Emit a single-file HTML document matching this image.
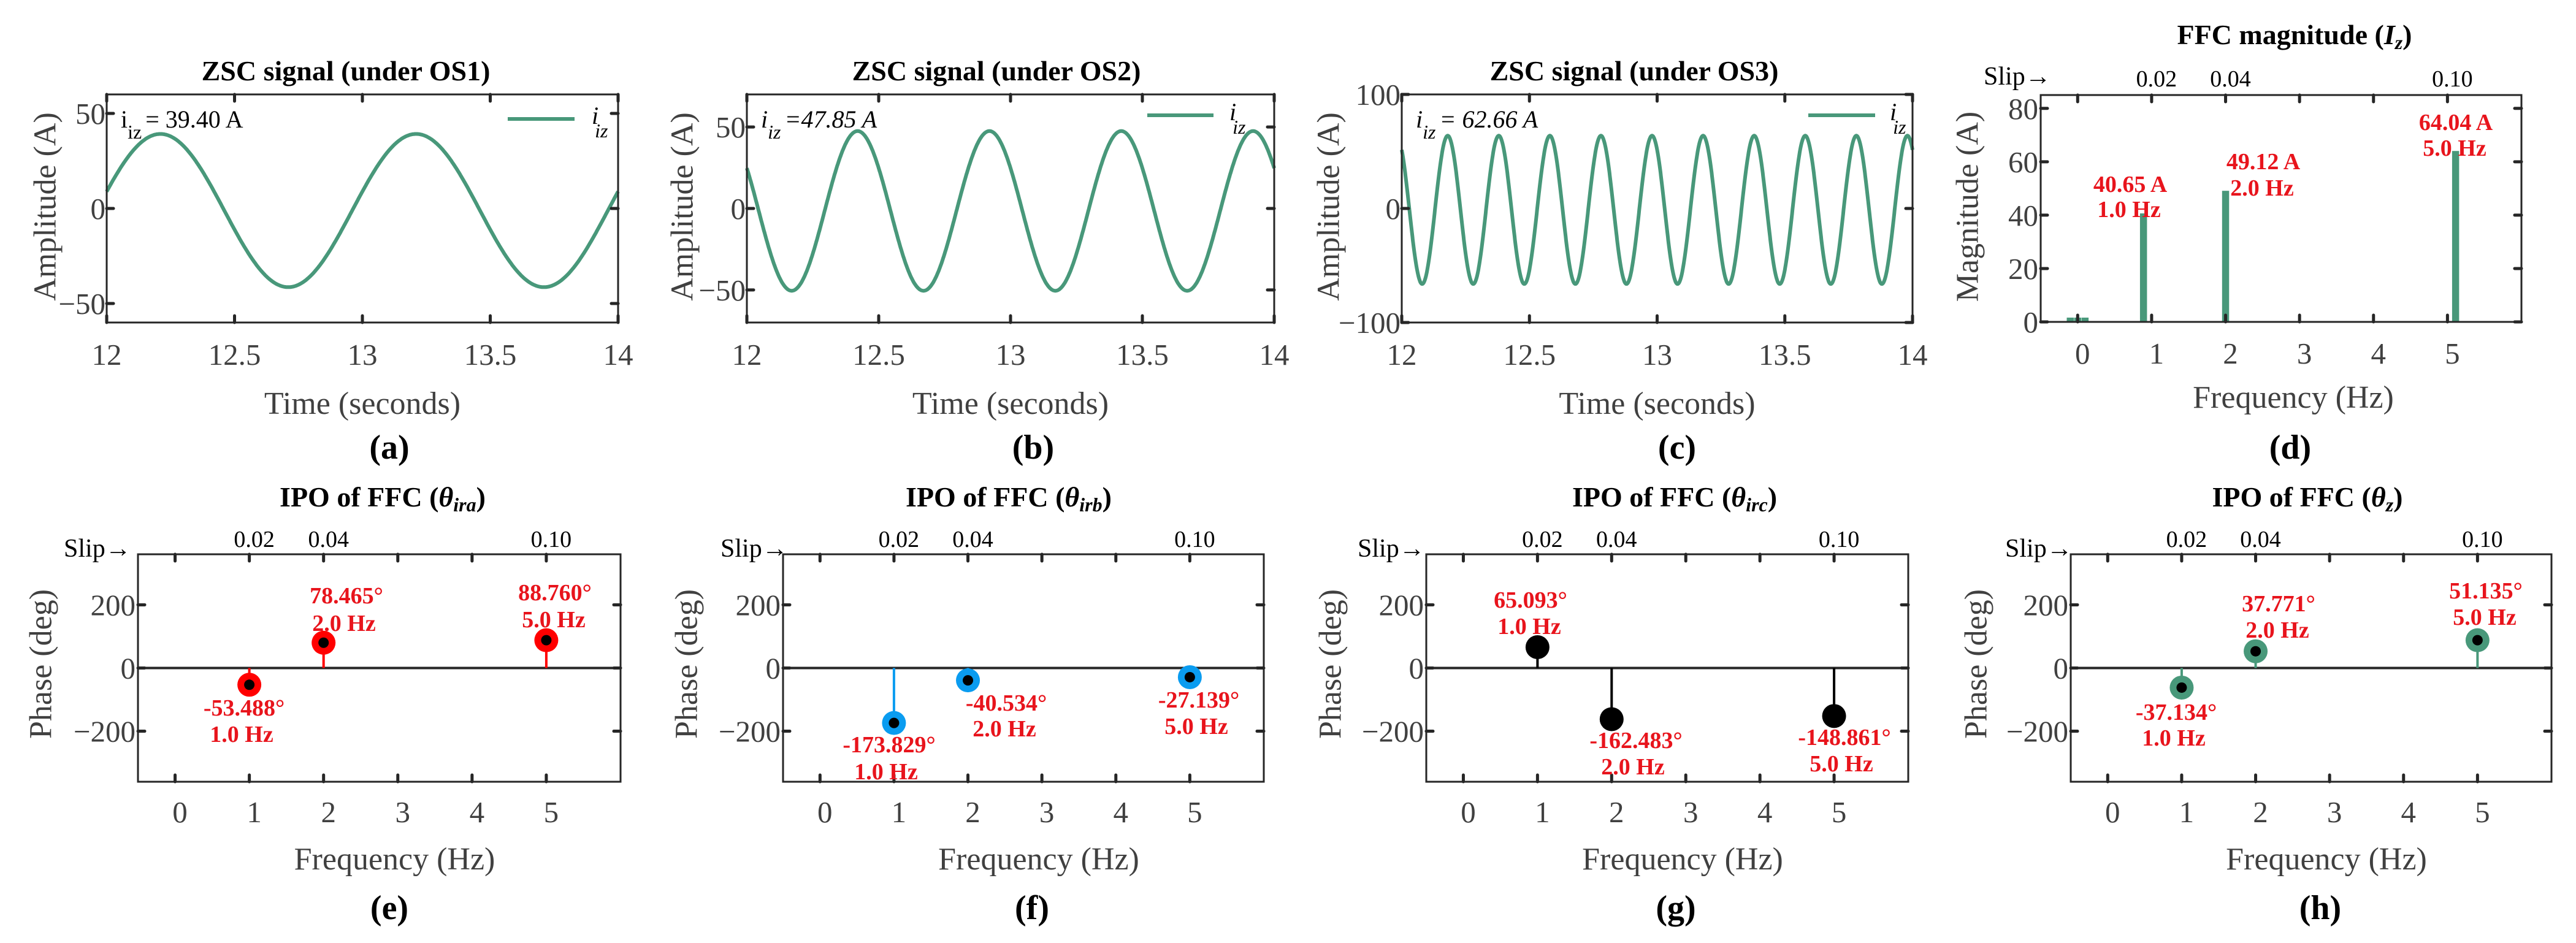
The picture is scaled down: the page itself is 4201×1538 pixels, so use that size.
<!DOCTYPE html>
<html><head><meta charset="utf-8">
<style>
html,body{margin:0;padding:0;background:#fff;}
svg{display:block;font-family:"Liberation Serif",serif;}
.tick{font-size:49px;fill:#404040;}
.axl{font-size:52px;fill:#404040;}
.ttl{font-size:46px;font-weight:bold;fill:#000;}
.sub{font-size:56px;font-weight:bold;fill:#000;}
.red{font-size:38px;font-weight:bold;fill:#e8141c;}
.slip{font-size:38px;fill:#000;}
</style></head>
<body>
<svg id="fig" width="4201" height="1538" viewBox="0 0 4201 1538" xmlns="http://www.w3.org/2000/svg"></svg>
<script>
// ---------- data ----------
const timeTicks = [12, 12.5, 13, 13.5, 14];
const timeTickLabels = ["12", "12.5", "13", "13.5", "14"];
const sigAmp = [40.3, 49, 65];          // signal amplitudes (A)
const sigFreq = [1, 2, 5];               // Hz
const sigPhase = [0.251, 2.576, 2.199];  // rad
const sigOffset = [-1.1, -1.5, -1.2];
const sigLabels = ["= 39.40 A", "=47.85 A", "= 62.66 A"];
const sigYTicks = [[-50, 0, 50], [-50, 0, 50], [-100, 0, 100]];
const sigYLim = [[-60, 60], [-70, 70], [-100, 100]];

const freqTicks = [0, 1, 2, 3, 4, 5];
const slipTickFreq = [1, 2, 5];
const slipLabels = ["0.02", "0.04", "0.10"];

const magFreq = [-0.1, 0, 0.1, 0.89, 2.0, 5.11];
const magVal = [1.6, 1.6, 1.6, 40.65, 49.12, 64.04];
const magYTicks = [0, 20, 40, 60, 80];

const phaseFreq = [1, 2, 5];
const phaseE = [-53, 80, 88];
const phaseF = [-174, -39, -29];
const phaseG = [66, -162, -152];
const phaseH = [-62, 53, 88];
const phaseYTicks = [-200, 0, 200];

// ---------- helpers ----------
const NS = "http://www.w3.org/2000/svg";
const svg = document.getElementById("fig");
function el(tag, attrs, parent) {
  const e = document.createElementNS(NS, tag);
  for (const k in attrs) e.setAttribute(k, attrs[k]);
  (parent || svg).appendChild(e);
  return e;
}
function txt(s, x, y, cls, anchor, parent) {
  const t = el("text", {x: x, y: y, class: cls, "text-anchor": anchor || "middle"}, parent);
  t.textContent = s;
  return t;
}
function makeAxes(g, L, R, T, B, xlim, ylim) {
  const sx = v => L + (v - xlim[0]) / (xlim[1] - xlim[0]) * (R - L);
  const sy = v => B - (v - ylim[0]) / (ylim[1] - ylim[0]) * (B - T);
  return {sx, sy, L, R, T, B};
}
function drawFrame(g, ax, xt, yt) {
  const {sx, sy, L, R, T, B} = ax;
  const f = el("rect", {x: L, y: T, width: R - L, height: B - T, fill: "none", stroke: "#262626", "stroke-width": 3}, g);
  
  
  xt.forEach(v => {
    el("line", {x1: sx(v), x2: sx(v), y1: B, y2: B - 11, stroke: "#262626", "stroke-width": 5, "stroke-linecap": "round"}, g);
    el("line", {x1: sx(v), x2: sx(v), y1: T, y2: T + 11, stroke: "#262626", "stroke-width": 5, "stroke-linecap": "round"}, g);
  });
  yt.forEach(v => {
    el("line", {x1: L, x2: L + 11, y1: sy(v), y2: sy(v), stroke: "#262626", "stroke-width": 5, "stroke-linecap": "round"}, g);
    el("line", {x1: R, x2: R - 11, y1: sy(v), y2: sy(v), stroke: "#262626", "stroke-width": 5, "stroke-linecap": "round"}, g);
  });
}
function ylabel(s, x, y, g) {
  const t = txt(s, 0, 0, "axl", "middle", g);
  t.setAttribute("transform", "translate(" + x + "," + y + ") rotate(-90)");
  t.setAttribute("dominant-baseline", "central");
  
  
  return t;
}
function title(parts, x, y, g) {
  const t = el("text", {x: x, y: y, class: "ttl", "text-anchor": "middle"}, g);
  parts.forEach(p => {
    const s = el("tspan", {}, t);
    if (p.it) s.setAttribute("font-style", "italic");
    if (p.sub) { s.setAttribute("font-size", "32px"); s.setAttribute("dy", "8"); }
    if (p.up) s.setAttribute("dy", "-8");
    s.textContent = p.t;
  });
  
  
  return t;
}
const GREEN = "#48987a";

// ---------- row 1: time signals ----------
const sigBoxes = [[174, 1008], [1218, 2078], [2286, 3119]];
const sigTitleX = [564, 1625, 2665];
const sigYLabX = [74, 1113, 2167];
const sigSubX = [635, 1685, 2735];
const sigAnnX = [197, 1241, 2309];
const legX = [[828, 937, 965], [1871, 1979, 2005], [2949, 3058, 3082]];
const sigNames = ["(a)", "(b)", "(c)"];
["OS1", "OS2", "OS3"].forEach((os, i) => {
  const g = el("g", {});
  
  
  const ax = makeAxes(g, sigBoxes[i][0], sigBoxes[i][1], 154, 526, [12, 14], sigYLim[i]);
  let d = "";
  const N = 1200;
  for (let k = 0; k <= N; k++) {
    const t = 12 + 2 * k / N;
    const v = sigOffset[i] + sigAmp[i] * Math.sin(2 * Math.PI * sigFreq[i] * (t - 12) + sigPhase[i]);
    d += (k ? "L" : "M") + ax.sx(t).toFixed(1) + " " + ax.sy(v).toFixed(1);
  }
  const p = el("path", {d: d, fill: "none", stroke: GREEN, "stroke-width": 6}, g);
  
  
  drawFrame(g, ax, timeTicks, sigYTicks[i]);
  timeTicks.forEach((v, j) => {
    const t = txt(timeTickLabels[j], ax.sx(v), 595, "tick", "middle", g);
    
    
  });
  sigYTicks[i].forEach(v => {
    const t = txt(String(v).replace("-", "\u2212"), ax.L - 2, ax.sy(v) + 17, "tick", "end", g);
    
    
  });
  title([{t: "ZSC signal (under " + os + ")"}], sigTitleX[i], 131, g);
  ylabel("Amplitude (A)", sigYLabX[i], 337, g);
  const xl = txt("Time (seconds)", (ax.L + ax.R) / 2, 675, "axl", "middle", g);
  
  
  const sl = txt(sigNames[i], sigSubX[i], 748, "sub", "middle", g);
  
  
  const an = el("text", {x: sigAnnX[i], y: 208, "font-size": "40px", fill: "#000"}, g);
  if (i > 0) an.setAttribute("font-style", "italic");
  const a1 = el("tspan", {}, an); a1.textContent = "i";
  const a2 = el("tspan", {dy: 18, "font-size": "32px"}, an); a2.textContent = "iz";
  const a3 = el("tspan", {dy: -18, dx: 6}, an); a3.textContent = sigLabels[i];
  
  
  const lg = el("g", {}, g);
  
  
  const ly = i === 0 ? 194 : 188;
  el("line", {x1: legX[i][0], x2: legX[i][1], y1: ly, y2: ly, stroke: GREEN, "stroke-width": 6}, lg);
  const lt = el("text", {x: legX[i][2], y: ly + 8, "font-size": "40px", "font-style": "italic", fill: "#000"}, lg);
  const l1 = el("tspan", {}, lt); l1.textContent = "i";
  const l2 = el("tspan", {dy: 22, dx: -6, "font-size": "32px"}, lt); l2.textContent = "iz";
});

// ---------- panel d: magnitude ----------
(function () {
  const g = el("g", {});
  
  
  const ax = makeAxes(g, 3328, 4112, 155, 525, [-0.5, 6], [0, 85]);
  const bw = 0.095 * (ax.R - ax.L) / 6.5;
  magFreq.forEach((f, j) => {
    const r = el("rect", {x: ax.sx(f) - bw / 2, y: ax.sy(magVal[j]), width: bw, height: ax.sy(0) - ax.sy(magVal[j]), fill: GREEN}, g);
    
    
  });
  drawFrame(g, ax, freqTicks, magYTicks);
  freqTicks.forEach(v => {
    const t = txt(String(v), ax.sx(v) + 8, 593, "tick", "middle", g);
    
    
  });
  magYTicks.forEach(v => {
    const t = txt(String(v), ax.L - 4, ax.sy(v) + 17, "tick", "end", g);
    
    
  });
  slipTickFreq.forEach((f, j) => {
    const t = txt(slipLabels[j], ax.sx(f) + 8, 141, "slip", "middle", g);
    
    
  });
  const s = el("text", {x: 3235, y: 138, "font-size": "42px", fill: "#000"}, g);
  s.textContent = "Slip\u2192";
  
  
  title([{t: "FFC magnitude ("}, {t: "I", it: 1}, {t: "z", it: 1, sub: 1}, {t: ")", up: 1}], 3742, 72, g);
  ylabel("Magnitude (A)", 3209, 337, g);
  const xl = txt("Frequency (Hz)", 3740, 665, "axl", "middle", g);
  
  
  const sl = txt("(d)", 3735, 748, "sub", "middle", g);
  
  
  const ann = [["40.65 A", 3474, 300], ["1.0 Hz", 3472, 341], ["49.12 A", 3691, 263], ["2.0 Hz", 3689, 306], ["64.04 A", 4005, 199], ["5.0 Hz", 4003, 241]];
  ann.forEach(a => {
    const t = txt(a[0], a[1], a[2] + 13, "red", "middle", g);
    
    
  });
})();

// ---------- row 2: phase panels ----------
const phaseSets = [phaseE, phaseF, phaseG, phaseH];
const phaseBoxes = [[225, 1012], [1277, 2061], [2326, 3112], [3377, 4161]];
const phaseColors = ["#ff0000", "#0a9cf0", "#000000", GREEN];
const phaseTitleX = [624, 1645, 2731, 3763];
const phaseSubs = ["ira", "irb", "irc", "z"];
const phaseYLabX = [67, 1120, 2170, 3223];
const phaseSlipX = [104, 1175, 2214, 3270];
const phaseSubX = [635, 1683, 2733, 3784];
const phaseNames = ["(e)", "(f)", "(g)", "(h)"];
const phaseAnn = [
  [["-53.488°", 398, 1154], ["1.0 Hz", 394, 1197], ["78.465°", 565, 971], ["2.0 Hz", 561, 1016], ["88.760°", 905, 966], ["5.0 Hz", 903, 1010]],
  [["-173.829°", 1450, 1214], ["1.0 Hz", 1445, 1258], ["-40.534°", 1641, 1146], ["2.0 Hz", 1638, 1188], ["-27.139°", 1955, 1141], ["5.0 Hz", 1951, 1184]],
  [["65.093°", 2496, 978], ["1.0 Hz", 2494, 1021], ["-162.483°", 2668, 1207], ["2.0 Hz", 2663, 1250], ["-148.861°", 3008, 1202], ["5.0 Hz", 3003, 1245]],
  [["-37.134°", 3549, 1161], ["1.0 Hz", 3545, 1203], ["37.771°", 3716, 984], ["2.0 Hz", 3714, 1027], ["51.135°", 4054, 963], ["5.0 Hz", 4052, 1006]]
];
phaseSets.forEach((vals, i) => {
  const g = el("g", {});
  
  
  const ax = makeAxes(g, phaseBoxes[i][0], phaseBoxes[i][1], 904, 1275, [-0.5, 6], [-360, 360]);
  el("line", {x1: ax.L, x2: ax.R, y1: ax.sy(0), y2: ax.sy(0), stroke: "#262626", "stroke-width": 4}, g);
  drawFrame(g, ax, freqTicks, phaseYTicks);
  const col = phaseColors[i];
  phaseFreq.forEach((f, j) => {
    const st = el("g", {}, g);
    
    
    el("line", {x1: ax.sx(f), x2: ax.sx(f), y1: ax.sy(0), y2: ax.sy(vals[j]), stroke: col, "stroke-width": 4}, st);
    el("circle", {cx: ax.sx(f), cy: ax.sy(vals[j]), r: 19.5, fill: col}, st);
    el("circle", {cx: ax.sx(f), cy: ax.sy(vals[j]), r: 8.5, fill: "#000"}, st);
  });
  freqTicks.forEach(v => {
    const t = txt(String(v), ax.sx(v) + 8, 1341, "tick", "middle", g);
    
    
  });
  phaseYTicks.forEach(v => {
    const t = txt(String(v).replace("-", "\u2212"), ax.L - 4, ax.sy(v) + 17, "tick", "end", g);
    
    
  });
  slipTickFreq.forEach((f, j) => {
    const t = txt(slipLabels[j], ax.sx(f) + 8, 892, "slip", "middle", g);
    
    
  });
  const s = el("text", {x: phaseSlipX[i], y: 908, "font-size": "42px", fill: "#000"}, g);
  s.textContent = "Slip\u2192";
  
  
  title([{t: "IPO of FFC ("}, {t: "\u03B8", it: 1}, {t: phaseSubs[i], it: 1, sub: 1}, {t: ")", up: 1}], phaseTitleX[i], 826, g);
  ylabel("Phase (deg)", phaseYLabX[i], 1083, g);
  const xl = txt("Frequency (Hz)", (ax.L + ax.R) / 2 + 25, 1418, "axl", "middle", g);
  
  
  const sl = txt(phaseNames[i], phaseSubX[i], 1499, "sub", "middle", g);
  
  
  phaseAnn[i].forEach(a => {
    const t = txt(a[0], a[1], a[2] + 13, "red", "middle", g);
    
    
  });
});
</script>
</body></html>
